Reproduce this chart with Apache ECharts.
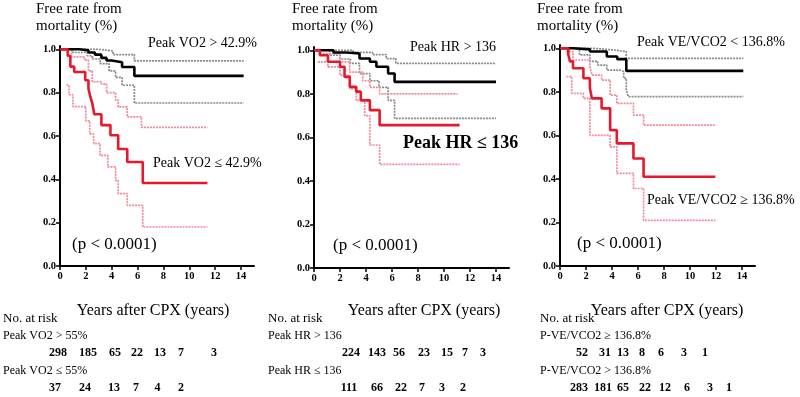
<!DOCTYPE html>
<html><head><meta charset="utf-8">
<script src="https://cdn.jsdelivr.net/npm/echarts@6/dist/echarts.min.js"></script>
<style>html,body{margin:0;padding:0;background:#fff}#c{width:800px;height:397px}</style>
</head><body><div id="c"></div>
<script>
// ---- data ----
const xTicks = [0,2,4,6,8,10,12,14];
const yTicks = [0,0.2,0.4,0.6,0.8,1.0];

// Panel 1: Peak VO2
const vo2HighSurv  = [[0,1],[1.5,0.995],[2.2,0.985],[2.7,0.975],[3.2,0.96],[3.6,0.948],[4.0,0.94],[4.8,0.918],[5.75,0.877],[14.2,0.877]];
const vo2HighUpper = [[0,1],[3.0,0.992],[4.1,0.975],[5.75,0.946],[14.2,0.946]];
const vo2HighLower = [[0,1],[1.0,0.985],[2.1,0.97],[2.5,0.955],[3.1,0.934],[3.8,0.90],[4.3,0.87],[4.8,0.834],[5.75,0.752],[14.2,0.752]];
const vo2LowSurv   = [[0,1],[0.6,0.97],[0.8,0.92],[1.1,0.895],[1.95,0.857],[2.2,0.818],[2.35,0.78],[2.5,0.75],[2.65,0.70],[3.2,0.65],[3.9,0.603],[4.5,0.54],[5.2,0.48],[6.4,0.383],[11.4,0.383]];
const vo2LowUpper  = [[0,1],[0.9,0.965],[1.9,0.95],[2.2,0.90],[2.5,0.85],[3.2,0.84],[3.6,0.80],[4.3,0.765],[4.5,0.734],[5.2,0.688],[6.3,0.64],[11.4,0.637]];
const vo2LowLower  = [[0.5,0.835],[0.7,0.79],[1.0,0.735],[2.0,0.67],[2.3,0.61],[2.6,0.565],[3.1,0.51],[3.7,0.457],[4.3,0.395],[4.5,0.334],[5.2,0.28],[6.4,0.18],[11.4,0.18]];

// Panel 2: Peak HR
const hrHighSurv  = [[0,1],[1.5,0.99],[2.5,0.985],[3.5,0.962],[4.3,0.947],[4.8,0.924],[5.7,0.893],[6.2,0.855],[14,0.855]];
const hrHighUpper = [[0,1],[3.0,0.99],[4.5,0.98],[5.55,0.962],[6.3,0.94],[14,0.94]];
const hrHighLower = [[0,1],[1.2,0.977],[2.0,0.96],[2.8,0.94],[3.5,0.893],[4.3,0.86],[5.0,0.83],[5.7,0.77],[6.2,0.687],[14,0.687]];
const hrLowSurv   = [[0,1],[0.45,0.977],[1.07,0.947],[2.0,0.924],[2.35,0.878],[2.75,0.832],[3.25,0.81],[3.6,0.77],[4.3,0.725],[5.05,0.656],[11.2,0.656]];
const hrLowUpper  = [[0,1],[0.45,0.985],[2.0,0.947],[2.75,0.90],[3.75,0.86],[4.3,0.83],[5.05,0.80],[11.05,0.80]];
const hrLowLower  = [[0.3,0.947],[1.07,0.924],[2.0,0.885],[2.75,0.824],[3.25,0.77],[3.9,0.70],[4.3,0.565],[5.05,0.476],[11.2,0.476]];

// Panel 3: Peak VE/VCO2
const veLowSurv   = [[0,1],[1.0,0.995],[2.3,0.985],[3.6,0.962],[4.4,0.95],[5.1,0.896],[14.1,0.896]];
const veLowUpper  = [[0,1],[2.5,0.993],[4.0,0.985],[5.1,0.954],[14.1,0.954]];
const veLowLower  = [[0,1],[1.5,0.97],[2.3,0.94],[2.9,0.923],[3.6,0.90],[4.6,0.893],[4.9,0.862],[5.1,0.808],[5.25,0.778],[14.1,0.778]];
const veHighSurv  = [[0,1],[0.64,0.97],[0.77,0.94],[1.0,0.908],[1.8,0.862],[2.3,0.816],[2.45,0.77],[3.2,0.724],[3.86,0.624],[4.37,0.563],[5.65,0.494],[6.43,0.41],[11.95,0.41]];
const veHighUpper = [[0,1],[0.5,0.985],[1.0,0.946],[2.3,0.916],[2.45,0.877],[3.2,0.854],[3.86,0.785],[4.37,0.747],[5.65,0.693],[6.43,0.647],[11.95,0.647]];
const veHighLower = [[0.5,0.87],[0.9,0.793],[1.8,0.77],[2.3,0.60],[3.86,0.547],[4.37,0.425],[5.65,0.356],[6.43,0.21],[11.95,0.21]];

// Labels
const groupLabels = [
  ['Peak VO2 > 42.9%','Peak VO2 \u2264 42.9%'],
  ['Peak HR > 136','Peak HR \u2264 136'],
  ['Peak VE/VCO2 < 136.8%','Peak VE/VCO2 \u2265 136.8%']
];
const riskLabels = [
  ['Peak VO2 > 55%','Peak VO2 \u2264 55%'],
  ['Peak HR > 136','Peak HR \u2264 136'],
  ['P-VE/VCO2 \u2265 136.8%','P-VE/VCO2 > 136.8%']
];
const atRisk = [
  [[298,185,65,22,13,7,3],[37,24,13,7,4,2]],
  [[224,143,56,23,15,7,3],[111,66,22,7,3,2]],
  [[52,31,13,8,6,3,1],[283,181,65,22,12,6,3,1]]
];

// ---- layout ----
const grids = [
  {left:60, top:46, width:194, height:220},
  {left:314, top:47, width:195, height:221},
  {left:560, top:45, width:195, height:221}
];
const panelX = [3, 268, 540];
const titleX = [36, 292, 537];
const yearsX = [153, 424, 667];
const riskCols = [
  [[58,88,115,137,160,181,214],[55,85,114,136,157.5,181]],
  [[351,377,399,424,447,465,483],[349,377,401,422,442,463]],
  [[582,605,623,642,661,684,705],[579,603,623,645,665,687,710,729]]
];
const riskRowsY = [319,336,353,371,388];

const SERIF = '"Liberation Serif","DejaVu Serif",serif';
const BLACK = '#000000', RED = '#e8182c', GRAY = '#8a8a8a', PINK = '#f4879a';

const panels = [
  [vo2HighSurv, vo2HighUpper, vo2HighLower, vo2LowSurv, vo2LowUpper, vo2LowLower],
  [hrHighSurv, hrHighUpper, hrHighLower, hrLowSurv, hrLowUpper, hrLowLower],
  [veLowSurv, veLowUpper, veLowLower, veHighSurv, veHighUpper, veHighLower]
];

const xAxis = [], yAxis = [], series = [];
grids.forEach((g,i)=>{
  xAxis.push({type:'value', gridIndex:i, min:0, max:15,
    axisLine:{show:true, lineStyle:{color:'#000', width:2}},
    axisTick:{show:true, customValues:xTicks, length:4, lineStyle:{color:'#000', width:1.5}},
    axisLabel:{customValues:xTicks, color:'#000', fontFamily:SERIF, fontWeight:'bold', fontSize:10.5, margin:5},
    splitLine:{show:false}});
  yAxis.push({type:'value', gridIndex:i, min:0, max:1.015,
    axisLine:{show:true, lineStyle:{color:'#000', width:2}},
    axisTick:{show:true, customValues:yTicks, length:4, lineStyle:{color:'#000', width:1.5}},
    axisLabel:{customValues:yTicks, color:'#000', fontFamily:SERIF, fontWeight:'bold', fontSize:10.5, margin:4,
      formatter:v=>v.toFixed(1)},
    splitLine:{show:false}});
  const d = panels[i];
  const styles = [
    [BLACK,2.6,'solid'],[GRAY,1.7,[2,1]],[GRAY,1.7,[2,1]],
    [RED,2.6,'solid'],[PINK,1.7,[2,1]],[PINK,1.7,[2,1]]
  ];
  const order = [1,2,4,5,0,3];
  order.forEach(k=>{
    series.push({type:'line', xAxisIndex:i, yAxisIndex:i, step:'end', data:d[k], symbol:'none',
      silent:true, animation:false,
      lineStyle:{color:styles[k][0], width:styles[k][1], type:styles[k][2]}});
  });
});

const graphic = [];
function txt(text,x,y,font,align){
  graphic.push({type:'text', x:x, y:y, silent:true,
    style:{text:text, font:font, fill:'#000', textAlign:align||'left', textVerticalAlign:'middle'}});
}
for(let i=0;i<3;i++){
  txt('Free rate from', titleX[i], 9, '15px '+SERIF);
  txt('mortality (%)', titleX[i], 26, '15px '+SERIF);
  txt('Years after CPX (years)', yearsX[i], 311, '16px '+SERIF, 'center');
  txt('No. at risk', panelX[i], riskRowsY[0], '13px '+SERIF);
  txt(riskLabels[i][0], panelX[i], riskRowsY[1], '12px '+SERIF);
  txt(riskLabels[i][1], panelX[i], riskRowsY[3], '12px '+SERIF);
  atRisk[i][0].forEach((v,j)=>txt(String(v), riskCols[i][0][j], riskRowsY[2], 'bold 12px '+SERIF, 'center'));
  atRisk[i][1].forEach((v,j)=>txt(String(v), riskCols[i][1][j], riskRowsY[4], 'bold 12px '+SERIF, 'center'));
}
// in-plot annotations
txt(groupLabels[0][0], 148, 43, '14px '+SERIF);
txt(groupLabels[0][1], 153, 163, '14px '+SERIF);
txt('(p < 0.0001)', 72, 245, '17px '+SERIF);
txt(groupLabels[1][0], 410, 47, '14px '+SERIF);
txt(groupLabels[1][1], 403, 143, 'bold 18px '+SERIF);
txt('(p < 0.0001)', 333, 246, '17px '+SERIF);
txt(groupLabels[2][0], 637, 42, '14px '+SERIF);
txt(groupLabels[2][1], 647, 200, '14px '+SERIF);
txt('(p < 0.0001)', 577, 244, '17px '+SERIF);

const chart = echarts.init(document.getElementById('c'), null, {renderer:'canvas'});
chart.setOption({animation:false, backgroundColor:'#fff', grid:grids, xAxis, yAxis, series, graphic});
</script></body></html>
